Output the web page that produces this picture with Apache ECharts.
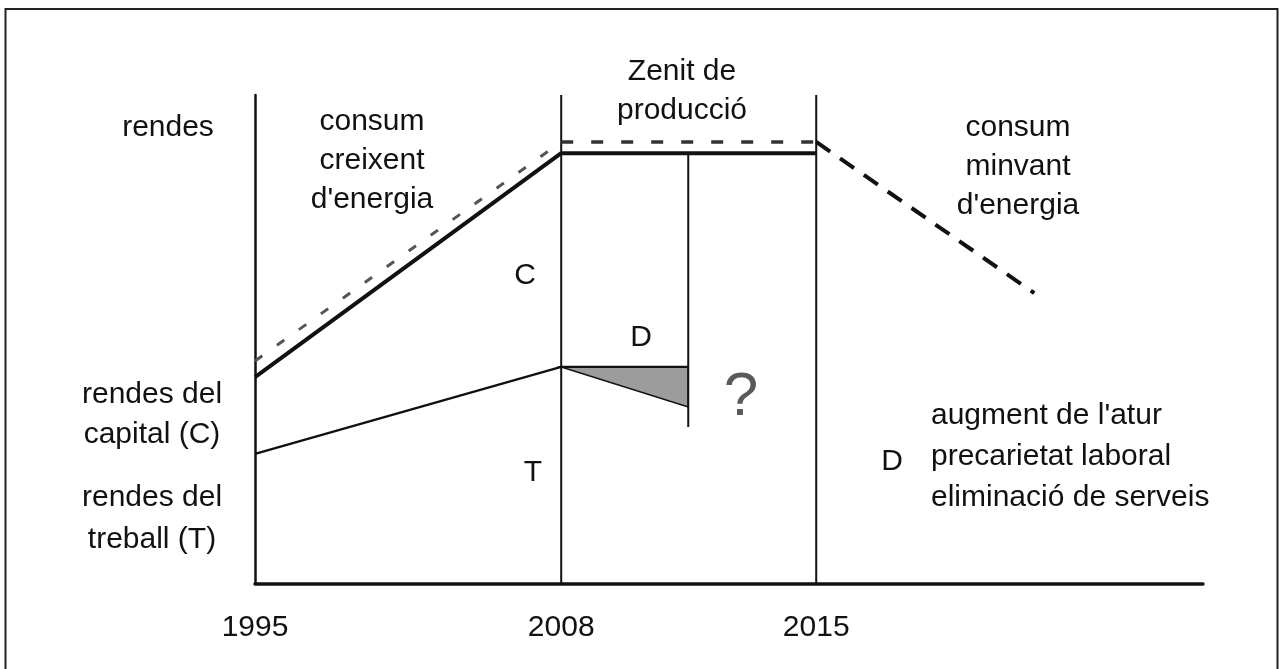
<!DOCTYPE html>
<html><head><meta charset="utf-8">
<script src="https://cdn.jsdelivr.net/npm/echarts@6/dist/echarts.min.js"></script>
<style>html,body{margin:0;padding:0;background:#fff}#c{width:1279px;height:669px}</style>
</head><body><div id="c"></div>
<script>
// Diagram units: x = position along time (0..100), y = rendes (0..100)
const yearTicks = [0, 32.3, 59.2];
const yearLabels = ['1995', '2008', '2015'];

const capitalLine = [[0, 42.3], [32.3, 88.1], [59.2, 88.1]];
const energyRising = [[0, 45.6], [32.3, 90.4]];
const energyPlateau = [[32.3, 90.4], [59.2, 90.4]];
const energyFalling = [[59.2, 90.4], [82.2, 59.5]];
const laborLine = [[0, 26.6], [32.3, 44.4], [45.7, 44.4]];
const line2008 = [[32.3, 0], [32.3, 100]];
const line2015 = [[59.2, 0], [59.2, 100]];
const lineD = [[45.7, 32.1], [45.7, 88.1]];
const deficitTriangle = [[32.3, 44.4], [45.7, 44.4], [45.7, 36.2]];

const txtRendes = 'rendes';
const txtCreixent = 'consum\ncreixent\nd\'energia';
const txtZenit = 'Zenit de\nproducció';
const txtMinvant = 'consum\nminvant\nd\'energia';
const txtCapital = 'rendes del\ncapital (C)';
const txtTreball = 'rendes del\ntreball (T)';
const txtC = 'C';
const txtD = 'D';
const txtT = 'T';
const txtQ = '?';
const txtDLegend = 'D';
const txtDItems = 'augment de l\'atur\nprecarietat laboral\neliminació de serveis';

const FONT = '"Liberation Sans", Arial, sans-serif';
const INK = '#111';

function lineSeries(data, width, color, type) {
  return {
    type: 'line', data: data, symbol: 'none', silent: true, animation: false,
    lineStyle: { width: width, color: color, type: type || 'solid', cap: 'butt' }, z: 4
  };
}
function txt(x, y, text, opts) {
  opts = opts || {};
  return {
    type: 'text', x: x, y: y, silent: true, z: 10,
    style: {
      text: text, fontFamily: FONT, fontSize: opts.size || 30, fill: opts.color || INK,
      align: opts.align || 'center', verticalAlign: 'middle', lineHeight: opts.lh || 39
    }
  };
}

const chart = echarts.init(document.getElementById('c'), null, { renderer: 'canvas' });
chart.setOption({
  backgroundColor: '#fff',
  animation: false,
  grid: { left: 255, right: 76, top: 95, bottom: 85, containLabel: false, outerBoundsMode: 'none' },
  xAxis: {
    type: 'value', min: 0, max: 100,
    axisLine: { show: true, onZero: false, lineStyle: { color: INK, width: 3.5 } },
    axisTick: { show: false },
    splitLine: { show: false },
    axisLabel: {
      show: true, customValues: yearTicks, margin: 29,
      fontFamily: FONT, fontSize: 30, color: INK,
      formatter: function (v) {
        let best = 0, d = Infinity;
        yearTicks.forEach(function (t, i) { if (Math.abs(t - v) < d) { d = Math.abs(t - v); best = i; } });
        return yearLabels[best];
      }
    }
  },
  yAxis: {
    type: 'value', min: 0, max: 100,
    axisLine: { show: true, onZero: false, lineStyle: { color: INK, width: 2.5 } },
    axisTick: { show: false }, axisLabel: { show: false }, splitLine: { show: false }
  },
  series: [
    lineSeries(line2008, 2, INK),
    lineSeries(line2015, 2, INK),
    lineSeries(lineD, 2, INK),
    lineSeries(capitalLine, 4, INK),
    lineSeries(energyRising, 3, '#555', [9, 18]),
    lineSeries(energyPlateau, 3.5, '#333', [12, 18]),
    lineSeries(energyFalling, 4, INK, [17, 12]),
    lineSeries(laborLine, 2.3, INK),
    {
      type: 'custom', silent: true, animation: false, z: 3,
      data: [deficitTriangle[0]],
      renderItem: function (params, api) {
        return {
          type: 'polygon',
          shape: { points: deficitTriangle.map(function (p) { return api.coord(p); }) },
          style: { fill: '#9c9c9c', stroke: INK, lineWidth: 1.5 }
        };
      }
    }
  ],
  graphic: [
    { type: 'rect', silent: true, z: 0, shape: { x: 5.5, y: 9, width: 1272, height: 700 },
      style: { fill: 'transparent', stroke: '#222', lineWidth: 2 } },
    txt(168, 128, txtRendes),
    txt(372, 161, txtCreixent),
    txt(682, 91, txtZenit),
    txt(1018, 167, txtMinvant),
    txt(152, 415, txtCapital, { lh: 40 }),
    txt(152, 519, txtTreball, { lh: 42 }),
    txt(525, 276, txtC),
    txt(641, 338, txtD),
    txt(533, 473, txtT),
    txt(741, 398, txtQ, { size: 62, lh: 62, color: '#5a5a5a' }),
    txt(892, 462, txtDLegend),
    txt(931, 457, txtDItems, { align: 'left', lh: 41 })
  ]
});
</script>
</body></html>
